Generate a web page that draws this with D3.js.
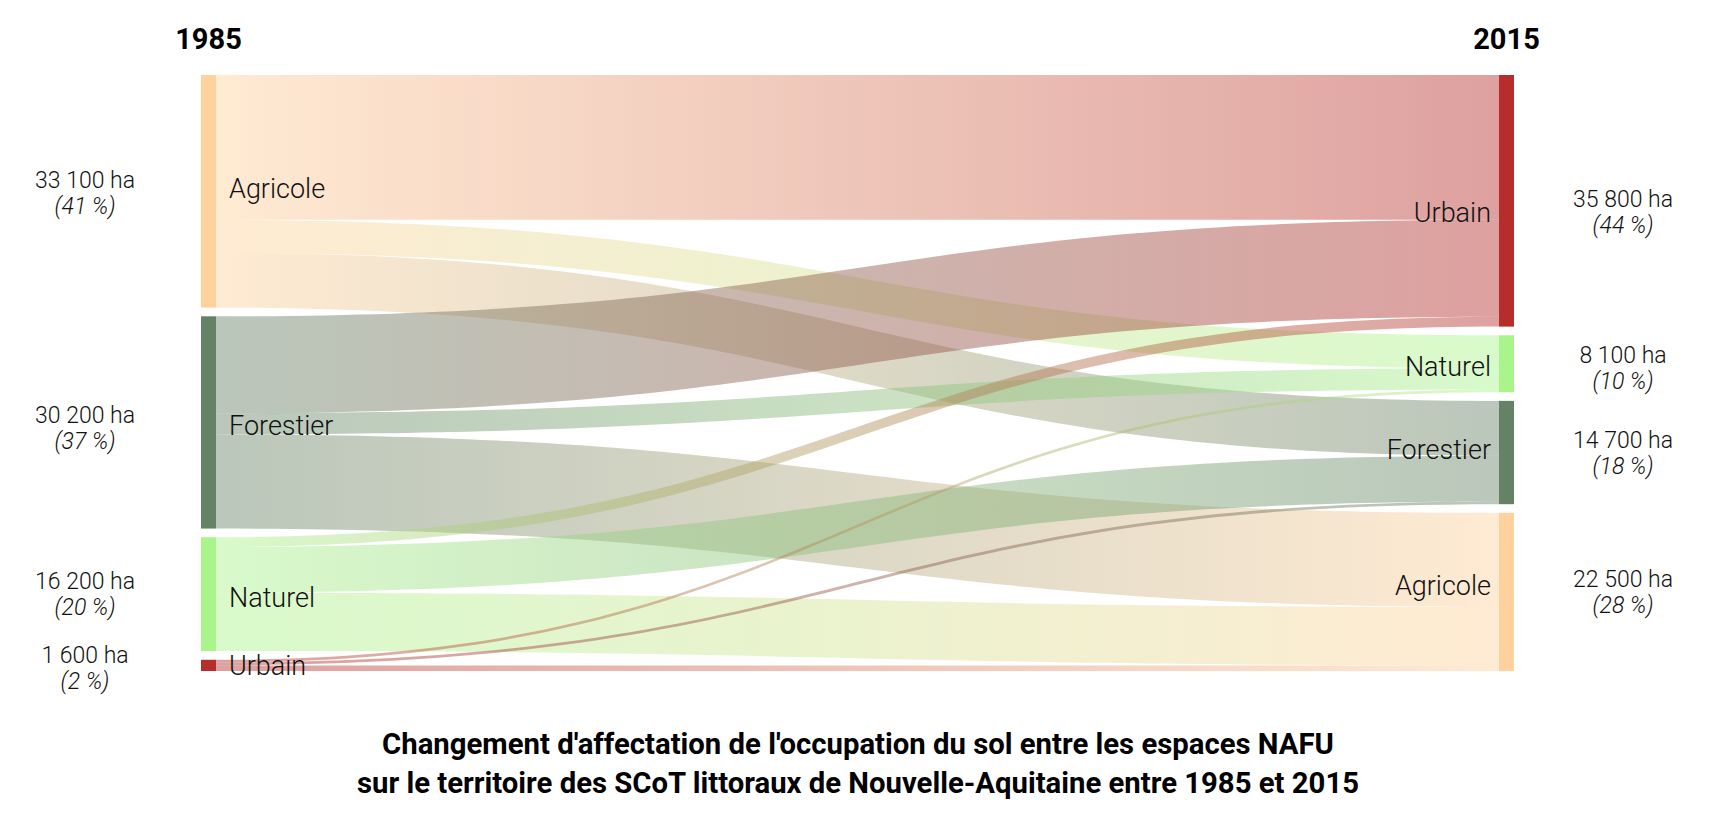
<!DOCTYPE html>
<html>
<head>
<meta charset="utf-8">
<script src="https://cdn.jsdelivr.net/npm/d3@7"></script>
<style>
  html, body { margin: 0; padding: 0; background: #ffffff; }
  svg { display: block; }
</style>
</head>
<body>
<div id="chart"></div>
<script>
// ---------------- DATA ----------------
const categories = ["Agricole", "Forestier", "Naturel", "Urbain"];
const categoryColors = ["#FFD19C", "#668266", "#A9F48B", "#B52E2B"];

const years = ["1985", "2015"];

// node order in each column (top to bottom)
const leftOrder = ["Agricole", "Forestier", "Naturel", "Urbain"];
const rightOrder = ["Urbain", "Naturel", "Forestier", "Agricole"];

// surfaces (ha) and shares (%)
const leftValues = [33100, 30200, 16200, 1600];
const leftShares = [41, 37, 20, 2];
const rightValues = [35800, 8100, 14700, 22500];
const rightShares = [44, 10, 18, 28];

// flows 1985 -> 2015 (ha)
const flowSources = ["Agricole", "Agricole", "Agricole",
                     "Forestier", "Forestier", "Forestier",
                     "Naturel", "Naturel", "Naturel",
                     "Urbain", "Urbain", "Urbain"];
const flowTargets = ["Urbain", "Naturel", "Forestier",
                     "Urbain", "Naturel", "Agricole",
                     "Urbain", "Forestier", "Agricole",
                     "Naturel", "Forestier", "Agricole"];
const flowValues = [20600, 4700, 7800,
                    13800, 3000, 13400,
                    1400, 6500, 8300,
                    400, 400, 800];

const titleLines = [
  "Changement d'affectation de l'occupation du sol entre les espaces NAFU",
  "sur le territoire des SCoT littoraux de Nouvelle-Aquitaine entre 1985 et 2015"
];

// ---------------- STYLE / LAYOUT ----------------
const W = 1716, H = 819;
const yTop = 75, yBottom = 671, pad = 8.67, nodeW = 15;
const xLeft = 201, xRight = 1499;
const nameSize = 27, valueSize = 23;
// small manual vertical nudges of labels (px), per column in node order
const nameNudgeL = [-2.5, 3, 3, 0], nameNudgeR = [11.5, 2.5, -3.5, -6.5];
const valueNudgeL = [-3.5, 0.5, -5, -2], valueNudgeR = [6, -1, -5, -5];

const total = d3.sum(leftValues);
const color = d3.scaleOrdinal().domain(categories).range(categoryColors);
const h = d3.scaleLinear().domain([0, total]).range([0, (yBottom - yTop) - pad * (leftOrder.length - 1)]);
const fmt = v => d3.format(",")(v).replace(/,/g, " ");

function buildColumn(order, values, shares, x, side, nn, vn) {
  let y = yTop;
  return order.map((name, i) => {
    const n = { name, value: values[i], share: shares[i], x0: x, x1: x + nodeW,
                y0: y, y1: y + h(values[i]), side, out: [], inn: [], nameDy: nn[i], valueDy: vn[i] };
    y = n.y1 + pad;
    return n;
  });
}
const leftNodes = buildColumn(leftOrder, leftValues, leftShares, xLeft, "L", nameNudgeL, valueNudgeL);
const rightNodes = buildColumn(rightOrder, rightValues, rightShares, xRight, "R", nameNudgeR, valueNudgeR);
const L = Object.fromEntries(leftNodes.map(n => [n.name, n]));
const R = Object.fromEntries(rightNodes.map(n => [n.name, n]));

const links = flowValues.map((v, i) => ({ source: L[flowSources[i]], target: R[flowTargets[i]], value: v, i }));
links.forEach(l => { l.source.out.push(l); l.target.inn.push(l); });
leftNodes.forEach(n => {
  n.out.sort((a, b) => a.target.y0 - b.target.y0);
  let y = n.y0;
  n.out.forEach(l => { l.ys0 = y; y += h(l.value); l.ys1 = y; });
});
rightNodes.forEach(n => {
  n.inn.sort((a, b) => a.source.y0 - b.source.y0);
  let y = n.y0;
  n.inn.forEach(l => { l.yt0 = y; y += h(l.value); l.yt1 = y; });
});

// ---------------- DRAW ----------------
const svg = d3.select("#chart").append("svg")
  .attr("width", W).attr("height", H)
  .attr("viewBox", `0 0 ${W} ${H}`);
svg.append("rect").attr("width", W).attr("height", H).attr("fill", "#fff");

const defs = svg.append("defs");
links.forEach(l => {
  const g = defs.append("linearGradient")
    .attr("id", "grad" + l.i)
    .attr("gradientUnits", "userSpaceOnUse")
    .attr("x1", l.source.x1).attr("x2", l.target.x0)
    .attr("y1", 0).attr("y2", 0);
  g.append("stop").attr("offset", "0%").attr("stop-color", color(l.source.name));
  g.append("stop").attr("offset", "100%").attr("stop-color", color(l.target.name));
});

function ribbon(l) {
  const x0 = l.source.x1, x1 = l.target.x0, xm = (x0 + x1) / 2;
  const p = d3.path();
  p.moveTo(x0, l.ys0);
  p.bezierCurveTo(xm, l.ys0, xm, l.yt0, x1, l.yt0);
  p.lineTo(x1, l.yt1);
  p.bezierCurveTo(xm, l.yt1, xm, l.ys1, x0, l.ys1);
  p.closePath();
  return p.toString();
}

svg.append("g").selectAll("path").data(links).join("path")
  .attr("d", ribbon)
  .attr("fill", l => `url(#grad${l.i})`)
  .attr("fill-opacity", 0.45);

const allNodes = leftNodes.concat(rightNodes);
svg.append("g").selectAll("rect").data(allNodes).join("rect")
  .attr("x", d => d.x0).attr("y", d => d.y0)
  .attr("width", nodeW).attr("height", d => d.y1 - d.y0)
  .attr("fill", d => color(d.name));

const cy = n => (n.y0 + n.y1) / 2;
const textFont = "Roboto, 'Noto Sans', sans-serif";

// node names
svg.append("g").selectAll("text").data(allNodes).join("text")
  .attr("x", d => d.side === "L" ? d.x1 + 13 : d.x0 - 8)
  .attr("y", d => cy(d) + d.nameDy + 0.355 * nameSize)
  .attr("text-anchor", d => d.side === "L" ? "start" : "end")
  .attr("font-family", textFont)
  .attr("font-weight", 300)
  .attr("font-size", nameSize)
  .attr("fill", "#111")
  .text(d => d.name);

// value labels
const vg = svg.append("g").selectAll("g").data(allNodes).join("g");
vg.append("text")
  .attr("x", d => d.side === "L" ? 85 : 1623)
  .attr("y", d => cy(d) + d.valueDy)
  .attr("text-anchor", "middle")
  .attr("font-family", textFont).attr("font-weight", 300).attr("font-size", valueSize)
  .attr("fill", "#111")
  .text(d => fmt(d.value) + " ha");
vg.append("text")
  .attr("x", d => d.side === "L" ? 85 : 1623)
  .attr("y", d => cy(d) + d.valueDy + 26)
  .attr("text-anchor", "middle")
  .attr("font-family", textFont).attr("font-weight", 300).attr("font-size", valueSize)
  .attr("font-style", "italic")
  .attr("fill", "#111")
  .text(d => `(${d.share} %)`);

// years
svg.append("g").selectAll("text").data(years).join("text")
  .attr("x", (d, i) => i === 0 ? xLeft + nodeW / 2 : xRight + nodeW / 2)
  .attr("y", 49)
  .attr("text-anchor", "middle")
  .attr("font-family", textFont).attr("font-weight", 700).attr("font-size", 29)
  .attr("fill", "#000")
  .text(d => d);

// title
svg.append("g").selectAll("text").data(titleLines).join("text")
  .attr("x", W / 2)
  .attr("y", (d, i) => 754 + i * 39)
  .attr("text-anchor", "middle")
  .attr("font-family", "'Liberation Sans Narrow', 'Roboto', sans-serif")
  .attr("font-weight", 700).attr("font-size", 29.3)
  .attr("fill", "#000")
  .text(d => d);
</script>
</body>
</html>
